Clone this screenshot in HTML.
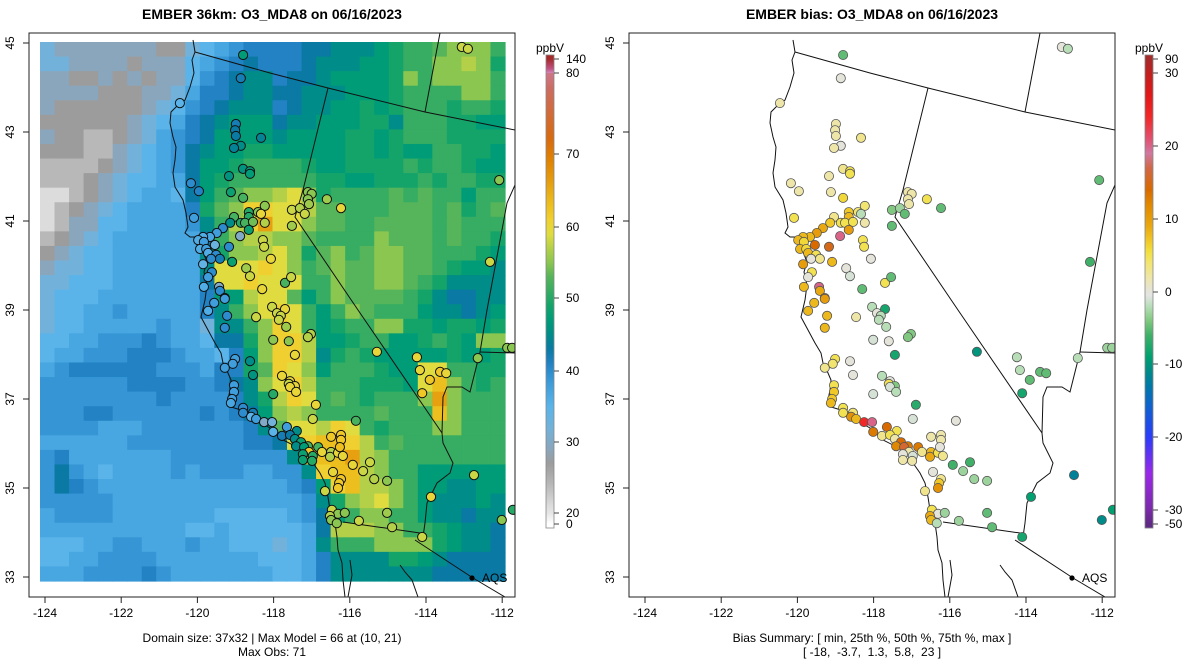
<!DOCTYPE html>
<html><head><meta charset="utf-8">
<style>
html,body{margin:0;padding:0;background:#fff;}
svg{display:block;font-family:"Liberation Sans",Arial,sans-serif;}
</style></head>
<body>
<svg id="chart" width="1200" height="672" viewBox="0 0 1200 672" xmlns="http://www.w3.org/2000/svg"></svg>
<script>
// ---------------- DATA ----------------
const modelCodes = {a:21,b:24,c:27,d:29,e:32,f:35,g:37,h:39,i:41,j:43,k:45,l:47,m:49,n:51,o:53,p:55,q:57,r:59,s:61,t:63,u:66,v:69};
const modelRows = [
"edddddddccefghii|iijjkkklmnnopppn",
"eeddddcdddfghiji|iijkkkllmnnppqpm",
"ddccdcdcddfhijkk|ijjkllllmpnppppn",
"ddddcccddegiijkk|jjkkklllmnnnnppn",
"dccccccdefhijkkk|ijkkllmlmnnnmnnm",
"ccccccdefgijklll|jkklllmmknnnmmll",
"dccbbcdeghijllll|kllllmmlmnnnmmmm",
"cccbbdefghjkllmm|lllllmmlmllnnmml",
"bbbbcdefghjllmnn|nnmllmmmmnmnnmll",
"bbbcdeffggjlmnnn|nnnmmllmmmnmnnmm",
"aabcdefggfjlnopp|qrpmnnnnononnlnn",
"abcdefggggimopss|rrqoonnnooonomno",
"abddffgggghknqsu|rrpoonnoooononnn",
"bcdefggggggjnpqq|pponnnnpooononnm",
"cdeffggggggkmppq|rpmopnoppoonnnml",
"deeffggggggkrrrs|rpnopooppoonmllk",
"eefffggggggjrrsr|rrnnpoopponmkkkk",
"efffgggggggillqr|rolnpoooonmkjjkk",
"effgghgggggiknpr|srnlnponnnlkkjkl",
"effggggghggekknp|srnlmnnppmmlmmlm",
"ffgghhhihggfjjmp|ssqllmnnllmnmlpp",
"fgghhhiiihggfilp|ssqkmnmlllllmllm",
"ghiiiiiihhhgiimo|srplnnnmllrrnnmm",
"hhhhhhiiiihhijkp|rsqnnnmmmlrtpnmn",
"hhhhhhhhihhhhikm|qsrnonmnnnpupnnn",
"hhhiihhhhhhihijl|pqpnnnnonnntpnnn",
"hhhhggghhhhhhhik|orrqsrnmnnnppnnn",
"gggggghhhhhhhhii|jrsttsqnonnnnnnn",
"higgggggghhhhhhh|hksttuqpnnnnnnnn",
"hjhgfgggghghhhgg|hhksttqpnnllllll",
"hjihgggggggggggg|ghilstqqpnllkkll",
"hhhhhggggggggggg|gghkmpqrpnlkkklk",
"ghhhhgggggggffff|fghjlnppnnlkkjkk",
"ggggggggggffgfff|ffgjqqqppnnmlkkj",
"fffgghhggghggfff|efgknnnppppmlkkj",
"ffgghhhhgggggggf|ffgikkkkmmlkjjjj",
"ggghhhhihggggggg|ffgikkkkkkkjjjjj"
];
// station coordinates are in the map's axis units (x-axis value, y-axis value)
const stationX = [-118.80,-118.86,-120.46,-118.99,-119.01,-118.99,-118.33,-118.86,-119.04,-118.80,-118.62,-118.62,-119.17,-120.17,-119.96,-119.12,-118.80,-118.23,-118.41,-118.33,-118.65,-118.65,-119.04,-119.14,-118.86,-118.75,-118.54,-118.23,-120.09,-119.33,-119.49,-118.65,-118.88,-119.67,-119.85,-119.98,-119.83,-119.54,-119.17,-119.93,-119.77,-119.72,-119.51,-119.41,-119.64,-118.28,-118.25,-119.09,-119.85,-118.07,-119.62,-119.72,-118.72,-118.62,-119.83,-119.43,-119.41,-119.28,-118.30,-117.70,-117.54,-117.52,-117.31,-117.18,-117.52,-117.10,-117.00,-117.10,-117.07,-116.60,-116.23,
-119.56,-119.28,-119.72,-119.22,-119.28,-118.46,-118.04,-117.70,-117.91,-117.81,-117.86,-117.67,-117.02,-117.10,-118.01,-117.60,-117.44,-115.29,-119.01,-119.07,-119.28,-118.62,-118.54,-117.78,-117.57,-117.60,-117.44,-117.57,-117.41,-118.01,-119.04,-119.04,-119.09,-119.12,-116.89,-116.97,-115.84,-118.80,-118.80,-118.54,-118.59,-118.46,-118.25,-118.04,-118.01,-117.65,-117.39,-117.78,-117.57,-117.44,-117.28,-117.10,-117.41,-117.20,-117.07,-116.83,-116.73,-117.23,-116.97,-117.23,-116.99,-116.49,-116.52,-116.31,-116.18,-116.49,-116.23,-116.23,-116.26,-115.92,-115.47,-115.65,-115.36,-115.02,-116.44,-116.23,-116.28,-116.31,-116.65,-116.47,-116.31,-116.13,-116.52,-116.49,-116.34,-115.76,-115.02,
-113.06,-112.90,-112.08,-112.32,-112.64,-111.87,-111.74,-114.24,-114.16,-113.90,-113.63,-113.47,-114.10,-112.74,-113.87,-112.01,-111.72,-114.89,-114.10];
const stationY = [44.73,44.21,43.65,43.18,43.04,42.91,42.87,42.69,42.64,42.17,42.12,42.06,42.01,41.85,41.67,41.65,41.52,41.34,41.20,41.16,41.20,41.09,41.09,40.96,40.96,40.96,40.98,40.96,41.07,40.84,40.73,40.80,40.66,40.64,40.64,40.57,40.53,40.46,40.42,40.37,40.37,40.28,40.24,40.15,40.15,40.57,40.42,40.08,40.03,40.15,39.85,39.74,39.94,39.76,39.52,39.52,39.43,39.27,39.47,39.61,39.74,41.25,41.29,41.16,40.89,41.65,41.61,41.49,41.38,41.49,41.29,
39.16,39.25,38.98,38.87,38.60,38.84,39.07,39.02,38.93,38.87,38.78,38.62,38.46,38.39,38.33,38.30,37.99,38.06,37.90,37.79,37.70,37.85,37.54,37.52,37.40,37.34,37.29,37.27,37.16,37.11,37.31,37.16,37.00,36.91,36.87,36.55,36.51,36.80,36.69,36.69,36.60,36.55,36.48,36.48,36.26,36.37,36.28,36.17,36.19,36.10,36.03,35.94,35.94,35.92,35.81,35.92,35.81,35.76,35.72,35.63,35.61,35.81,35.70,35.79,35.72,36.15,36.19,36.08,35.92,35.52,35.58,35.38,35.20,35.16,35.36,35.20,35.11,35.00,34.93,34.51,34.42,34.44,34.37,34.28,34.21,34.26,34.44,
44.91,44.87,41.92,40.08,37.92,38.15,38.15,37.94,37.65,37.43,37.61,37.58,37.13,35.29,34.80,34.28,34.51,34.12,33.90];
const stationObs = [47,42,35,42,43,43,44,45,44,46,47,47,46,40,41,48,52,55,55,60,50,50,52,45,50,52,54,57,38,40,38,48,30,37,36,36,38,33,40,36,38,36,40,42,40,58,58,48,34,60,40,38,56,58,36,30,40,38,60,52,58,58,57,58,56,55,55,55,56,56,60,
38,38,36,40,40,58,58,60,58,58,58,56,57,57,55,55,60,60,38,38,38,45,46,60,60,58,60,60,60,50,38,38,38,37,60,58,52,40,40,42,35,38,30,32,35,38,45,42,43,45,48,52,45,47,62,52,60,48,50,48,50,57,57,60,60,62,62,62,63,60,58,58,57,55,60,62,62,62,58,58,55,55,57,55,55,58,56,
58,58,55,58,55,55,55,60,60,62,62,60,62,58,60,55,50,57,58];
const stationBias = [-5,0,2,2,2,2,3,0,2,3,5,5,2,2,2,2,6,4,4,-2,7,8,3,7,5,5,5,2,5,9,10,10,20,8,8,8,6,14,15,8,6,8,5,3,0,5,5,8,10,0,5,0,0,-1,8,20,9,11,-5,5,-5,-4,-3,-5,-5,2,2,2,2,5,-5,
8,10,8,8,8,2,-2,-8,0,-2,-2,-2,-4,-4,-1,0,-8,-10,5,4,3,0,0,-2,0,5,-4,-1,-2,-1,5,7,7,8,-7,-1,0,5,5,4,11,8,24,20,13,14,5,3,5,2,14,13,12,16,2,13,3,0,-1,2,2,8,9,5,3,2,2,2,0,-6,-6,-3,-3,-3,0,3,7,11,3,5,0,-3,9,8,-2,-3,-5,
0,-2,-5,-6,-2,-3,-3,-2,-2,-5,-5,-5,-8,-12,-9,-11,-9,-5,-8];
const xTicks = [-124,-122,-120,-118,-116,-114,-112];
const yTicks = [45,43,41,39,37,35,33];
const modelCbTicks = [140,80,70,60,50,40,30,20,0];
const biasCbTicks = [90,30,20,10,0,-10,-20,-30,-50];

// ---------------- HELPERS ----------------
const svg = document.getElementById('chart');
const NS = 'http://www.w3.org/2000/svg';
function mk(tag, attrs, parent){const e=document.createElementNS(NS,tag);for(const k in attrs)e.setAttribute(k,attrs[k]);(parent||svg).appendChild(e);return e;}
function hexToRgb(h){return [parseInt(h.substr(1,2),16),parseInt(h.substr(3,2),16),parseInt(h.substr(5,2),16)];}
function interp(stops, v){
  if(v<=stops[0][0])return stops[0][1];
  for(let i=1;i<stops.length;i++){
    if(v<=stops[i][0]){const a=stops[i-1],b=stops[i];const t=(v-a[0])/(b[0]-a[0]);
      const ca=hexToRgb(a[1]),cb=hexToRgb(b[1]);
      return 'rgb('+ca.map((c,j)=>Math.round(c+(cb[j]-c)*t)).join(',')+')';}
  }
  return stops[stops.length-1][1];
}
function modelColor(v){return interp([[0,'#ffffff'],[20,'#e6e6e6'],[21,'#dcdcdc'],[24,'#b8b8b8'],[27,'#9c9c9c'],[29,'#8aa6bc'],[32,'#72b2da'],[35,'#5ab4ea'],[37,'#48a6e0'],[39,'#3696d5'],[41,'#2282c4'],[43,'#0a7aa4'],[45,'#008c88'],[47,'#009c78'],[49,'#14a46a'],[51,'#36ad62'],[53,'#56b45a'],[55,'#8ac650'],[57,'#b4d048'],[59,'#e0dc40'],[61,'#f0d030'],[63,'#edbf1e'],[66,'#e6a010'],[69,'#e08400'],[72,'#d86a10'],[78,'#cc6c60'],[82,'#d080b0'],[100,'#c05080'],[140,'#a52a2a']],v);}
function biasColor(v){return interp([[-50,'#5e2a84'],[-30,'#7a2aa8'],[-25,'#9a28e8'],[-20,'#2a3cf8'],[-16,'#1060d0'],[-13,'#0078a8'],[-11,'#008a88'],[-9,'#00a070'],[-6,'#40b068'],[-4,'#80c880'],[-2,'#b8deb8'],[-0.5,'#e4e4e4'],[0.5,'#e6e4d0'],[2,'#eee6a8'],[4,'#f2e470'],[5.5,'#f2e040'],[7,'#f0c828'],[9,'#eaa810'],[12,'#e08800'],[14,'#d86a00'],[17,'#d06848'],[19,'#d078a0'],[21,'#e05070'],[24,'#f02828'],[27,'#e01818'],[30,'#c02020'],[90,'#a52a2a']],v);}
function piece(bks, pxs, v){for(let i=1;i<bks.length;i++){if((bks[0]<bks[1]?v<=bks[i]:v>=bks[i])||i===bks.length-1){const t=(v-bks[i-1])/(bks[i]-bks[i-1]);return pxs[i-1]+(pxs[i]-pxs[i-1])*t;}}}
function modelCbY(v){return piece([0,20,30,40,50,60,70,80,140],[524,513,442,371,298,227,154,73,59],v);}
function biasCbY(v){return piece([-50,-30,-20,-10,0,10,20,30,90],[524,510,437,364,292,219,146,73,59],v);}
function xScale(v,off){return off+45+(v+124)*38.1;}
function yScale(v){return 43+(45-v)*44.5;}

const coast = [[193,40],[195,52],[192,60],[194,73],[190,87],[185,100],[178,105],[171,112],[170,123],[173,137],[176,147],[175,160],[173,173],[175,187],[183,200],[186,213],[188,227],[185,233],[190,237],[195,237],[200,240],[203,252],[207,262],[204,272],[207,285],[205,300],[201,317],[208,330],[215,343],[221,353],[223,363],[228,373],[231,380],[230,390],[228,400],[231,407],[241,410],[251,417],[261,423],[270,428],[283,440],[297,447],[307,453],[313,463],[320,473],[325,483],[328,497],[330,510],[335,523],[337,537],[338,550],[342,563],[343,580],[345,597]];
const borders = [
 [[195,52],[270,73],[328,88],[425,112],[515,130]],
 [[440,33],[425,112]],
 [[328,88],[303,190],[295,217],[358,310],[442,433]],
 [[442,433],[443,443],[453,463],[450,473],[437,483],[427,503],[425,523],[423,537]],
 [[343,522],[420,533]],
 [[415,540],[473,578],[505,597]],
 [[515,185],[507,203],[487,310],[480,352],[478,360],[470,392],[462,387],[447,387],[443,397],[442,433]],
 [[480,352],[515,353]],
 [[400,565],[405,572],[412,580],[418,597]],
 [[350,560],[352,575],[348,597]]
];

function drawPanel(off, isBias){
  const g = mk('g',{});
  
  
  const clipId = 'clip'+off;
  const cp = mk('clipPath',{id:clipId},g); mk('rect',{x:off+29,y:33,width:486,height:564},cp);
  const inner = mk('g',{'clip-path':'url(#'+clipId+')'},g);
  if(!isBias){
    const grid = mk('g',{},inner);
    
    
    const nr=modelRows.length, cw=465/32, ch=539/nr;
    modelRows.forEach((row,r)=>{
      const cells=row.replace('|','');
      for(let c=0;c<32;c++){
        const v=modelCodes[cells[c]];
        const cell=mk('rect',{x:(40+c*cw).toFixed(2),y:(42+r*ch).toFixed(2),width:(cw+0.6).toFixed(2),height:(ch+0.6).toFixed(2),fill:modelColor(v)},grid);
        
        
      }
    });
  }
  const geo = mk('g',{fill:'none',stroke:'#111','stroke-width':1},inner);
  
  
  mk('polyline',{points:coast.map(p=>(p[0]+off)+','+p[1]).join(' ')},geo);
  borders.forEach(b=>mk('polyline',{points:b.map(p=>(p[0]+off)+','+p[1]).join(' ')},geo));
  const st = mk('g',{},inner);
  
  
  for(let i=0;i<stationX.length;i++){
    const col = isBias?biasColor(stationBias[i]):modelColor(stationObs[i]);
    const c=mk('circle',{cx:xScale(stationX[i],off).toFixed(1),cy:yScale(stationY[i]).toFixed(1),r:4.6,fill:col,stroke:isBias?'#555':'#111','stroke-width':isBias?0.8:1},st);
    
    
  }
  const aq=mk('circle',{cx:off+472,cy:578,r:2.6,fill:'#000'},g);
  
  
  const at=mk('text',{x:off+482,y:582,'font-size':12,fill:'#000'},g); at.textContent='AQS';
  
  
  const bx=mk('rect',{x:off+29,y:33,width:486,height:564,fill:'none',stroke:'#222','stroke-width':1},g);
  
  
  xTicks.forEach(t=>{
    const x=xScale(t,off);
    mk('line',{x1:x,x2:x,y1:597,y2:603,stroke:'#222'},g);
    const tx=mk('text',{x:x,y:617,'font-size':12,'text-anchor':'middle',fill:'#000'},g); tx.textContent=t;
    
    
  });
  yTicks.forEach(t=>{
    const y=yScale(t);
    mk('line',{x1:off+29,x2:off+23,y1:y,y2:y,stroke:'#222'},g);
    const tx=mk('text',{x:0,y:0,'font-size':12,'text-anchor':'middle',fill:'#000',transform:'translate('+(off+14)+','+y+') rotate(-90)'},g); tx.textContent=t;
    
    
  });
  const ti=mk('text',{x:off+272,y:19,'font-size':14,'font-weight':'bold','text-anchor':'middle',fill:'#000'},g);
  ti.textContent = isBias?'EMBER bias: O3_MDA8 on 06/16/2023':'EMBER 36km: O3_MDA8 on 06/16/2023';
  
  
  const f1=mk('text',{x:off+272,y:642,'font-size':12,'text-anchor':'middle',fill:'#000'},g);
  f1.textContent = isBias?'Bias Summary: [ min, 25th %, 50th %, 75th %, max ]':'Domain size: 37x32 | Max Model = 66 at (10, 21)';
  
  
  const f2=mk('text',{x:off+272,y:656,'font-size':12,'text-anchor':'middle',fill:'#000',style:'white-space:pre'},g);
  f2.textContent = isBias?'[ -18,  -3.7,  1.3,  5.8,  23 ]':'Max Obs: 71';
  
  
  const cb=mk('g',{},g);
  
  
  const cx = isBias?1145:546;
  const yf = isBias?biasCbY:modelCbY, cf = isBias?biasColor:modelColor;
  const lo = isBias?-50:0, hi = isBias?90:140;
  for(let py=55;py<528;py++){
    let a=lo,b=hi;
    for(let k=0;k<30;k++){const m=(a+b)/2; if(yf(m)>py+0.5)a=m;else b=m;}
    mk('rect',{x:cx,y:py,width:8,height:1.2,fill:cf((a+b)/2)},cb);
  }
  mk('rect',{x:cx,y:55,width:8,height:473,fill:'none',stroke:'#888','stroke-width':0.8},cb);
  const ticks = isBias?biasCbTicks:modelCbTicks;
  ticks.forEach(t=>{
    const y=yf(t);
    mk('line',{x1:cx+8,x2:cx+13,y1:y,y2:y,stroke:'#444'},cb);
    const tx=mk('text',{x:cx+20,y:y+4,'font-size':12,fill:'#000'},cb); tx.textContent=t;
    
    
  });
  const un=mk('text',{x:cx+4,y:52,'font-size':12,'text-anchor':'middle',fill:'#000'},cb); un.textContent='ppbV';
  
  
}
drawPanel(0,false);
drawPanel(600,true);
</script>
</body></html>
